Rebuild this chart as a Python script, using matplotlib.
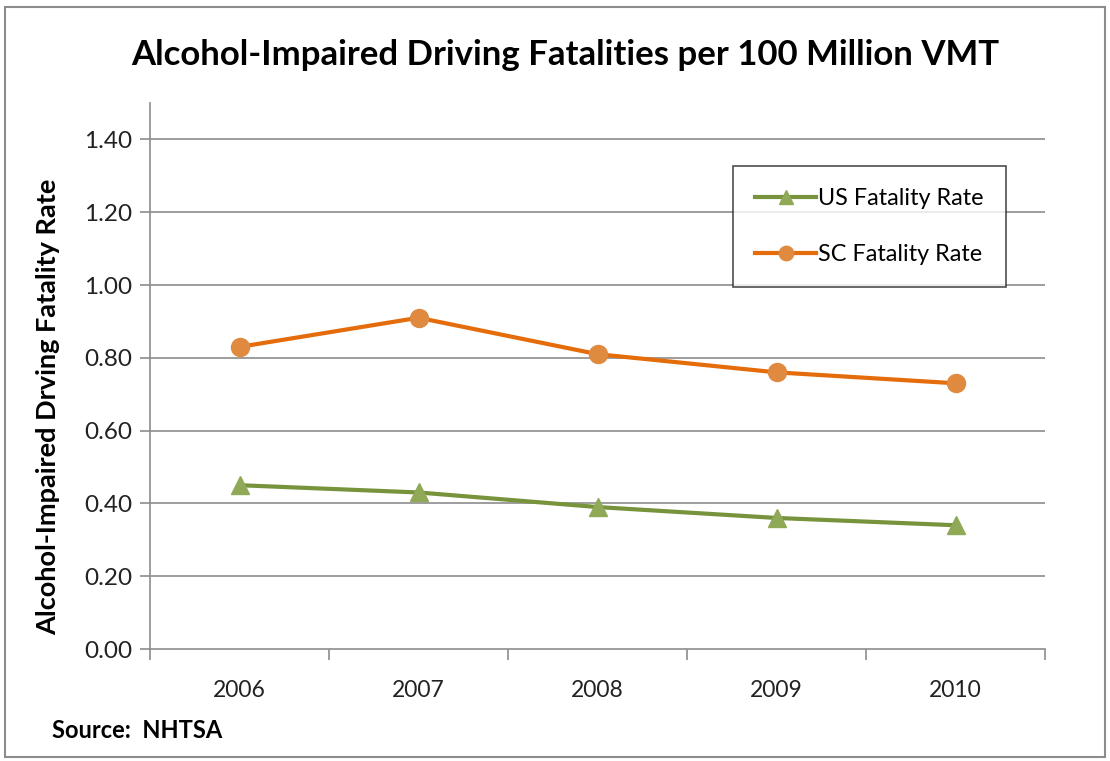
import matplotlib
matplotlib.use("Agg")
import matplotlib.pyplot as plt
from matplotlib.patches import Rectangle

years = ["2006", "2007", "2008", "2009", "2010"]
us_rate = [0.45, 0.43, 0.39, 0.36, 0.34]
sc_rate = [0.83, 0.91, 0.81, 0.76, 0.73]
y_ticks = [0.0, 0.2, 0.4, 0.6, 0.8, 1.0, 1.2, 1.4]

plt.rcParams['font.family'] = ['Lato', 'DejaVu Sans']

fig = plt.figure(figsize=(11.1, 7.61), dpi=100)
W, H = 1110, 761
ax = fig.add_axes([150 / W, 1 - 649 / H, 895 / W, (649 - 103) / H])

x = list(range(len(years)))
ax.plot(x, us_rate, color="#77933C", lw=3, marker="^", ms=13,
        markerfacecolor="#8FA957", markeredgecolor="#8FA957",
        label="US Fatality Rate", zorder=3)
ax.plot(x, sc_rate, color="#E46C0A", lw=3, marker="o", ms=13,
        markerfacecolor="#E08A40", markeredgecolor="#E08A40",
        label="SC Fatality Rate", zorder=3)

ax.set_xlim(-0.5, len(years) - 0.5)
ax.set_ylim(0, 1.5)
ax.set_yticks(y_ticks)
ax.set_yticklabels([f"{v:.2f}" for v in y_ticks])
ax.set_xticks(x)
ax.set_xticklabels(years)
ax.set_xticks([i - 0.5 for i in range(len(years) + 1)], minor=True)

for v in y_ticks[1:]:
    ax.axhline(v, color="#8C8C8C", lw=1.2, zorder=1)

for s in ["top", "right"]:
    ax.spines[s].set_visible(False)
for s in ["left", "bottom"]:
    ax.spines[s].set_color("#8C8C8C")
    ax.spines[s].set_linewidth(1.2)

ax.tick_params(axis="y", length=7, width=1.2, color="#8C8C8C",
               labelsize=17.5, pad=6, labelcolor="#222222")
ax.tick_params(axis="x", which="major", length=0, labelsize=16.5, pad=22,
               labelcolor="#222222")
ax.tick_params(axis="x", which="minor", length=8, width=1.2, color="#8C8C8C")

ax.set_ylabel("Alcohol-Impaired Drving Fatality Rate", fontsize=19.5,
              fontweight="bold")
ax.yaxis.set_label_coords((60 - 150) / 895, (649 - 407) / 546)

leg = ax.legend(loc="upper left", bbox_to_anchor=((733 - 150) / 895, (649 - 166) / 546),
                fontsize=16.8, frameon=True, fancybox=False, edgecolor="#222222",
                handlelength=2.6, borderpad=0.95, labelspacing=1.5,
                handletextpad=0.1, markerscale=0.8, borderaxespad=0)
leg.get_frame().set_linewidth(1.2)

fig.text(565 / W, 1 - 55 / H, "Alcohol-Impaired Driving Fatalities per 100 Million VMT",
         ha="center", va="center", fontsize=25, fontweight="bold")
fig.text(52 / W, 1 - 731 / H, "Source:  NHTSA", ha="left", va="center",
         fontsize=17, fontweight="bold")

fig.patches.append(Rectangle((5 / W, 4 / H), 1 - 10 / W, 1 - 11 / H,
                             transform=fig.transFigure, fill=False,
                             edgecolor="#8C8C8C", lw=1.5))

fig.savefig("out.png", dpi=100)
